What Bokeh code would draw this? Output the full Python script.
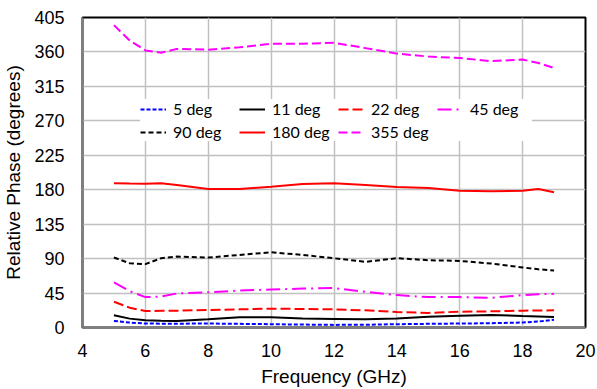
from bokeh.plotting import figure
from bokeh.models import Range1d, FixedTicker
from bokeh.embed import file_html
from bokeh.resources import INLINE

freq = [5, 5.5, 6, 6.5, 7, 8, 9, 10, 11, 12, 13, 14, 15, 16, 17, 18, 18.5, 19]

phase_5 = [8.6, 6.5, 5.2, 5.0, 5.0, 5.2, 4.8, 4.3, 3.8, 3.4, 3.6, 4.3, 4.8, 5.2, 5.6, 6.5, 7.8, 10.0]
phase_11 = [15.9, 11.6, 9.5, 8.8, 8.6, 10.8, 13.4, 13.4, 11.6, 11.2, 10.8, 11.6, 14.2, 15.5, 16.4, 15.1, 14.5, 13.8]
phase_22 = [33.6, 25.9, 21.6, 21.8, 22.0, 22.8, 23.7, 24.6, 24.2, 23.7, 22.4, 20.3, 19.0, 20.7, 21.1, 22.0, 22.2, 22.4]
phase_45 = [59.0, 47.4, 39.7, 40.5, 44.4, 46.0, 48.3, 49.6, 50.8, 51.5, 46.5, 42.3, 39.7, 39.7, 38.8, 42.3, 43.5, 44.0]
phase_90 = [91.4, 84.0, 82.8, 90.5, 92.7, 91.4, 94.8, 98.3, 94.8, 90.5, 85.8, 90.5, 87.9, 87.0, 83.6, 78.5, 76.0, 74.6]
phase_180 = [188.4, 188.0, 187.9, 188.3, 186.2, 181.0, 181.0, 184.0, 187.5, 188.6, 186.2, 183.6, 182.3, 178.8, 178.0, 178.8, 181.0, 176.7]
phase_355 = [395.0, 375.0, 362.0, 359.0, 364.0, 363.0, 366.0, 370.7, 370.7, 372.0, 365.0, 357.8, 354.0, 352.0, 348.0, 350.0, 345.6, 339.0]

x_ticks = [4, 6, 8, 10, 12, 14, 16, 18, 20]
y_ticks = [0, 45, 90, 135, 180, 225, 270, 315, 360, 405]

series = [
    ("5 deg", phase_5, "#0000FF", "4 2"),
    ("11 deg", phase_11, "#000000", "solid"),
    ("22 deg", phase_22, "#FF0000", "10 4"),
    ("45 deg", phase_45, "#FF00FF", "14 5 2 5"),
    ("90 deg", phase_90, "#000000", "5 3"),
    ("180 deg", phase_180, "#FF0000", "solid"),
    ("355 deg", phase_355, "#FF00FF", "9 4"),
]

p = figure(width=597, height=389, output_backend="svg", toolbar_location=None,
           x_range=Range1d(4, 20), y_range=Range1d(0, 405),
           min_border_left=81, min_border_right=12, min_border_top=17, min_border_bottom=59)

for label, ys, color, dash in series:
    p.line(freq, ys, line_color=color, line_width=2, line_dash=dash, legend_label=label)

p.background_fill_color = "white"
p.border_fill_color = "white"
p.outline_line_color = "black"
p.outline_line_width = 2

p.xaxis.ticker = FixedTicker(ticks=x_ticks)
p.yaxis.ticker = FixedTicker(ticks=y_ticks)
for ax in (p.xaxis[0], p.yaxis[0]):
    ax.axis_line_color = "#808080"
    ax.axis_line_width = 2
    ax.major_tick_line_color = None
    ax.minor_tick_line_color = None
    ax.major_label_text_font = "Liberation Sans"
    ax.major_label_text_font_size = "18px"
    ax.major_label_text_color = "black"
    ax.axis_label_text_font = "Liberation Sans"
    ax.axis_label_text_font_size = "19px"
    ax.axis_label_text_font_style = "normal"
    ax.axis_label_text_color = "black"

p.xaxis.axis_label = "Frequency (GHz)"
p.yaxis.axis_label = "Relative Phase (degrees)"
p.xaxis.major_label_standoff = 10
p.yaxis.major_label_standoff = 12
p.xaxis.axis_label_standoff = 6
p.yaxis.axis_label_standoff = 7

p.xgrid.ticker = FixedTicker(ticks=x_ticks)
p.ygrid.ticker = FixedTicker(ticks=y_ticks)
p.grid.grid_line_color = "#c0c0c0"
p.grid.grid_line_width = 1.5

lg = p.legend[0]
lg.orientation = "horizontal"
lg.ncols = 4
lg.location = (58, 186)
lg.margin = 0
lg.padding = 5
lg.spacing = 4
lg.glyph_width = 26
lg.glyph_height = 18
lg.label_height = 18
lg.label_width = 62
lg.label_standoff = 7
lg.label_text_font = "Lato"
lg.label_text_font_size = "16px"
lg.label_text_color = "black"
lg.border_line_color = None
lg.background_fill_color = "white"
lg.background_fill_alpha = 1.0

open("out.html", "w").write(file_html(p, INLINE))
